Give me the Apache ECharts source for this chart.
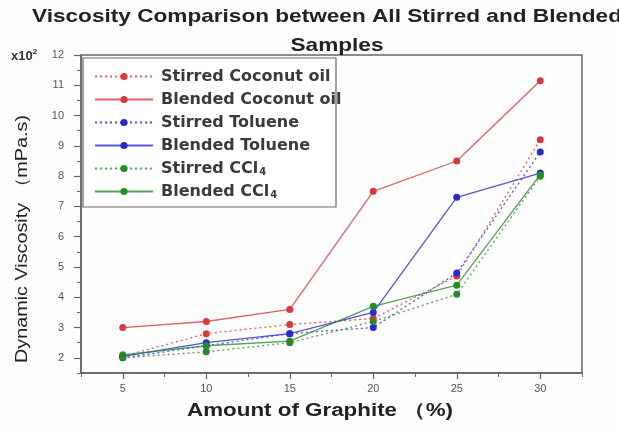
<!DOCTYPE html>
<html>
<head>
<meta charset="utf-8">
<script src="https://cdn.jsdelivr.net/npm/echarts@6/dist/echarts.min.js"></script>
<style>
  html, body { margin: 0; padding: 0; background: #fdfdfd; }
  #chart { width: 619px; height: 429px; }
</style>
</head>
<body>
<div id="chart"></div>
<script>
// x values (Amount of Graphite, %)
var graphite = [5, 10, 15, 20, 25, 30];

// viscosity, x10^2 mPa.s
var stirredCoconut = [2.05, 2.8, 3.1, 3.3, 4.7, 9.2];
var blendedCoconut = [3.0, 3.2, 3.6, 7.5, 8.5, 11.15];
var stirredToluene = [2.0, 2.4, 2.8, 3.0, 4.8, 8.8];
var blendedToluene = [2.05, 2.5, 2.8, 3.5, 7.3, 8.1];
var stirredCCl4 = [2.0, 2.2, 2.5, 3.2, 4.1, 8.0];
var blendedCCl4 = [2.1, 2.4, 2.55, 3.7, 4.4, 8.05];

var yTicks = [2, 3, 4, 5, 6, 7, 8, 9, 10, 11, 12];
var xTicks = [5, 10, 15, 20, 25, 30];

var RED = "#d83a3a", BLUE = "#2a2ad0", GREEN = "#2a8a2a";

function pairs(ys){
	var out = [];
	for(var i = 0; i < graphite.length; ++i){
		out.push([graphite[i], ys[i]]);
	}
	return out;
}

function makeSeries(name, ys, color, dotted){
	return {
		name : name,
		type : "line",
		data : pairs(ys),
		symbol : "circle",
		symbolSize : 7,
		itemStyle : { color : color },
		lineStyle : {
			color : color,
			width : 1.3,
			type : dotted ? [2, 3] : "solid",
			opacity : 0.8
		},
		emphasis : { disabled : true },
		animation : false
	};
}

// stretch a text horizontally so that it covers the wanted width
var measureCtx = document.createElement("canvas").getContext("2d");
function stretchTo(text, font, wanted){
	measureCtx.font = font;
	return wanted / measureCtx.measureText(text).width;
}

var titleFont = "bold 19px 'Liberation Sans'";
var title1 = "Viscosity Comparison between All Stirred and Blended";
var title2 = "Samples";
var yName = "Dynamic Viscosity （mPa.s)";
var yNameFont = "17px 'Liberation Sans'";
var xName = "Amount of Graphite （%)";
var xNameFont = "bold 18px 'Liberation Sans'";

var titleScale = stretchTo(title1, titleFont, 590);

var chart = echarts.init(document.getElementById("chart"));

var axisFont = { fontFamily : "Liberation Sans", fontSize : 11, color : "#555" };

var option = {
	backgroundColor : "#fdfdfd",
	grid : {
		left : 81, top : 55, right : 37, bottom : 56,
		show : true,
		borderColor : "#666",
		borderWidth : 1.5,
		backgroundColor : "transparent"
	},
	legend : {
		orient : "vertical",
		left : 84,
		top : 66,
		padding : [2, 4, 2, 10],
		itemWidth : 58,
		itemHeight : 9,
		itemGap : 6,
		textStyle : {
			fontFamily : "DejaVu Sans",
			fontSize : 16,
			fontWeight : "bold",
			lineHeight : 17,
			padding : [0, 0, 0, 3],
			color : "#3a3a3a",
			rich : {
				sub : { fontFamily : "DejaVu Sans", fontSize : 10, fontWeight : "bold", lineHeight : 17, padding : [7, 0, 0, 1], color : "#3a3a3a" }
			}
		},
		formatter : function(name){
			return name.replace("CCl4", "CCl{sub|4}");
		},
		data : ["Stirred Coconut oil", "Blended Coconut oil", "Stirred Toluene",
			"Blended Toluene", "Stirred CCl4", "Blended CCl4"]
	},
	xAxis : [{
		type : "value",
		min : 2.5, max : 32.5, interval : 2.5,
		axisLine : { lineStyle : { color : "#666", width : 1.5 } },
		axisTick : { length : 4, lineStyle : { color : "#666" } },
		axisLabel : { show : false },
		splitLine : { show : false }
	}, {
		type : "value",
		position : "bottom",
		min : 2.5, max : 32.5,
		axisLine : { show : false },
		axisTick : { length : 6, customValues : xTicks, lineStyle : { color : "#666", width : 1.2 } },
		axisLabel : Object.assign({ customValues : xTicks, margin : 10 }, axisFont),
		splitLine : { show : false }
	}],
	yAxis : [{
		type : "value",
		min : 1.5, max : 12, interval : 0.5,
		axisLine : { show : true, lineStyle : { color : "#666", width : 1.5 } },
		axisTick : { show : true, length : 4, lineStyle : { color : "#666" } },
		axisLabel : { show : false },
		splitLine : { show : false }
	}, {
		type : "value",
		position : "left",
		min : 1.5, max : 12,
		axisLine : { show : false },
		axisTick : { show : true, length : 7, customValues : yTicks, lineStyle : { color : "#666", width : 1.2 } },
		axisLabel : Object.assign({ customValues : yTicks, margin : 17 }, axisFont),
		splitLine : { show : false }
	}],
	graphic : [{
		// legend frame, the longest entry runs past it as in the original
		type : "rect",
		z : 1,
		shape : { x : 83, y : 58, width : 253, height : 149 },
		style : { fill : "#fff", stroke : "#666", lineWidth : 1.2 }
	}, {
		type : "text",
		x : 32, y : 17,
		scaleX : titleScale,
		style : { text : title1, font : titleFont, fill : "#222", align : "left", verticalAlign : "middle" }
	}, {
		type : "text",
		x : 337, y : 46,
		scaleX : titleScale,
		style : { text : title2, font : titleFont, fill : "#222", align : "center", verticalAlign : "middle" }
	}, {
		type : "text",
		left : 11, top : 48,
		style : {
			text : "x10{sup|2}",
			font : "bold 13px 'Liberation Sans'",
			fill : "#333",
			rich : { sup : { fontSize : 8, padding : [0, 0, 8, 0], fill : "#333", fontWeight : "bold" } }
		}
	}, {
		type : "text",
		x : 22, y : 239,
		rotation : Math.PI / 2,
		scaleX : stretchTo(yName, yNameFont, 248),
		style : { text : yName, font : yNameFont, fill : "#222", align : "center", verticalAlign : "middle" }
	}, {
		type : "text",
		x : 320, y : 411,
		scaleX : stretchTo(xName, xNameFont, 266),
		style : { text : xName, font : xNameFont, fill : "#222", align : "center", verticalAlign : "middle" }
	}],
	series : [
		makeSeries("Stirred Coconut oil", stirredCoconut, RED, true),
		makeSeries("Blended Coconut oil", blendedCoconut, RED, false),
		makeSeries("Stirred Toluene", stirredToluene, BLUE, true),
		makeSeries("Blended Toluene", blendedToluene, BLUE, false),
		makeSeries("Stirred CCl4", stirredCCl4, GREEN, true),
		makeSeries("Blended CCl4", blendedCCl4, GREEN, false)
	]
};

chart.setOption(option);
</script>
</body>
</html>
